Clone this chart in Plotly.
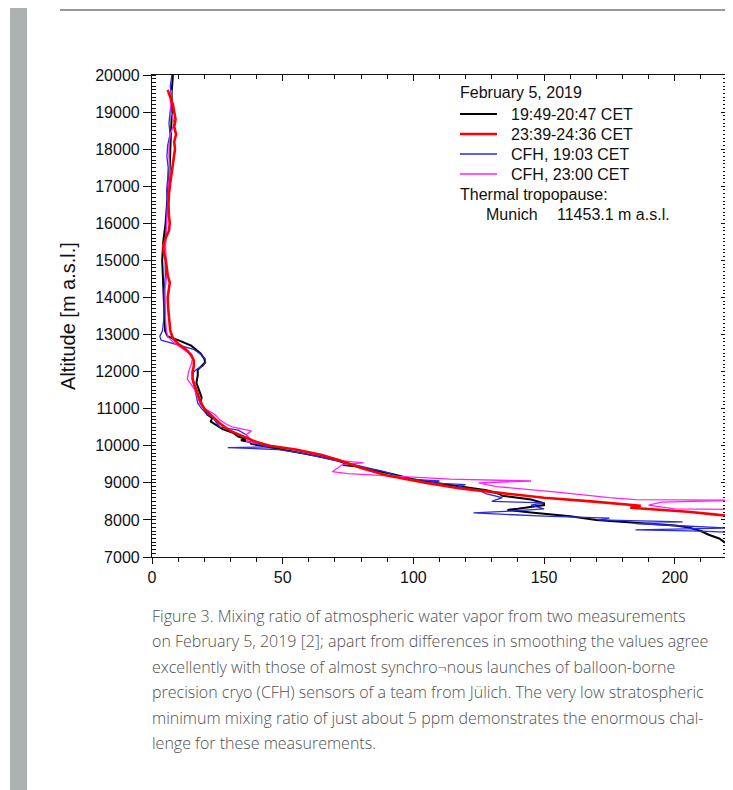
import plotly.graph_objects as go

# ---------------- data (altitude in m, mixing ratio in ppmv) ----------------
black_alt = [20000, 19800, 19500, 19000, 18500, 18000, 17500, 17000, 16500, 16000,
             15500, 15200, 15000, 14500, 14000, 13500, 13100, 12950, 12850, 12700,
             12500, 12350, 12250, 12150, 12050, 11900, 11700, 11500, 11300, 11150,
             11000, 10850, 10750, 10650, 10550, 10450, 10350, 10250, 10180, 10150,
             10100, 10050, 10000, 9900, 9800, 9700, 9600, 9530, 9480, 9450,
             9350, 9250, 9100, 9000, 8900, 8800, 8700, 8650, 8600, 8550,
             8450, 8400, 8300, 8270, 8200, 8100, 8000, 7950, 7900, 7850,
             7800, 7700, 7600, 7500, 7400, 7300]
black_val = [8.0, 7.8, 7.5, 7.6, 7.2, 7.0, 6.8, 6.3, 5.8, 5.2,
             4.3, 3.9, 3.9, 4.2, 4.5, 4.8, 5.0, 6.0, 10, 15,
             18.5, 20, 20.3, 19, 17.5, 17.5, 17.0, 18, 19, 18.5,
             20, 21, 23, 22.5, 25, 27, 31, 33, 36, 34,
             37.5, 38, 42, 50, 58, 65, 71, 74, 73, 78,
             84, 91, 100, 108, 118, 128, 133, 134, 140, 145,
             150, 150, 140, 136, 145, 160, 170, 180, 190, 200,
             205, 210, 213, 217, 219, 222]

red_alt = [19600, 19400, 19200, 19000, 18800, 18600, 18400, 18200, 18000, 17700,
           17400, 17100, 16800, 16500, 16200, 16000, 15800, 15600, 15400, 15200,
           15000, 14800, 14600, 14400, 14200, 14000, 13700, 13400, 13100, 12900,
           12750, 12600, 12450, 12300, 12150, 12000, 11800, 11600, 11400, 11200,
           11000, 10800, 10600, 10400, 10250, 10100, 10000, 9900, 9750, 9600,
           9400, 9200, 9000, 8850, 8730, 8600, 8500, 8420, 8380, 8330,
           8300, 8220, 8150, 8100]
red_val = [6.0, 7.0, 8.0, 8.5, 9.0, 8.5, 9.2, 8.5, 8.8, 8.2,
           7.5, 7.0, 6.5, 6.3, 6.5, 6.8, 6.5, 5.2, 4.3, 4.5,
           5.3, 5.6, 6.0, 6.8, 6.5, 6.0, 6.2, 6.6, 7.0, 8,
           10, 13, 15, 16, 16, 15.5, 15.5, 16.5, 17.5, 18.5,
           20, 23, 26, 30, 35, 40, 45, 55, 65, 72,
           80, 90, 105, 118, 133, 150, 168, 180, 187, 183,
           190, 205, 215, 222]

blue_alt = [20000, 19700, 19400, 19000, 18700, 18400, 18100, 17800, 17500, 17200,
            16900, 16500, 16200, 15800, 15400, 15000, 14600, 14200, 13800, 13400,
            13100, 12950, 12850, 12800, 12700, 12600, 12450, 12350, 12250, 12150,
            12080, 12000, 11850, 11700, 11500, 11300, 11150, 11000, 10850, 10780,
            10650, 10500, 10420, 10300, 10200, 10100, 10050, 9970, 9950, 9930,
            9900, 9800, 9700, 9600, 9500, 9400, 9300, 9200, 9100, 9050,
            9000, 8950, 8900, 8800, 8700, 8600, 8500, 8460, 8400, 8300,
            8250, 8190, 8150, 8100, 8050, 8000, 7950, 7900, 7850, 7780,
            7730, 7700, 7650]
blue_val = [7.6, 7.0, 7.5, 7.0, 6.5, 6.9, 6.0, 5.7, 6.2, 6.0,
            5.6, 5.8, 5.5, 5.3, 5.0, 5.0, 5.1, 4.7, 4.6, 4.5,
            4.0, 3.0, 3.5, 6, 12, 16, 19, 20.3, 20.5, 19.5,
            17.5, 16, 15.5, 15.7, 16.5, 17, 17.5, 19, 21, 23,
            24.5, 26, 33, 36, 37, 38.6, 40, 45, 29, 36,
            48, 57, 64, 70, 77, 83, 89, 93, 98, 110,
            106, 120, 117, 125, 128, 134, 130, 150, 145, 150,
            140, 123, 135, 150, 175, 171, 203, 185, 200, 221,
            185, 210, 225]

mag_alt = [19600, 19300, 19000, 18700, 18400, 18100, 17800, 17400, 17000, 16600,
           16200, 15800, 15400, 15000, 14600, 14200, 13800, 13400, 13100, 12950,
           12800, 12650, 12500, 12350, 12200, 12000, 11800, 11700, 11550, 11400,
           11200, 11000, 10850, 10700, 10600, 10500, 10400, 10300, 10200, 10120,
           10050, 9950, 9850, 9750, 9650, 9600, 9540, 9500, 9300, 9250,
           9100, 9050, 9000, 8950, 8900, 8750, 8600, 8550, 8530, 8480,
           8400, 8300, 8280]
mag_val = [7.5, 7.0, 7.3, 8.5, 7.0, 6.5, 6.5, 6.8, 6.3, 6.0,
           5.8, 5.5, 5.2, 5.4, 5.6, 5.0, 5.0, 5.2, 5.5, 6,
           8, 11, 14, 15.5, 15, 14, 13.5, 14.5, 16, 17,
           18, 20, 24, 26, 28, 31, 38, 36, 37.5, 36,
           42, 50, 57, 64, 70, 72, 81, 73, 69, 75,
           114, 145, 125, 128, 132, 155, 175, 185, 225, 195,
           190, 200, 225]

legend_title = "February 5, 2019"
series_names = ["19:49-20:47 CET", "23:39-24:36 CET", "CFH, 19:03 CET", "CFH, 23:00 CET"]
series_colors = ["#000000", "#ff0000", "#2a2ae0", "#ff22ff"]
series_widths = [2, 2.6, 1.3, 1.3]
x_range = [0, 220]
y_range = [7000, 20000]
x_ticks = [0, 50, 100, 150, 200]
y_ticks = list(range(7000, 20001, 1000))
y_ticktext = [str(v) for v in y_ticks]
tropo_label = "Thermal tropopause:"
tropo_site = "Munich"
tropo_value = "11453.1 m a.s.l."

caption_lines = [
    "Figure 3. Mixing ratio of atmospheric water vapor from two measurements",
    "on February 5, 2019 [2]; apart from differences in smoothing the values agree",
    "excellently with those of almost synchro¬nous launches of balloon-borne",
    "precision cryo (CFH) sensors of a team from Jülich. The very low stratospheric",
    "minimum mixing ratio of just about 5 ppm demonstrates the enormous chal-",
    "lenge for these measurements.",
]

# ---------------- layout geometry (reference pixels) ----------------
OFF = 8                      # page body margin of the html page
PAGE_W, PAGE_H = 733, 790
W, H = PAGE_W - OFF, PAGE_H - OFF
L, R, T, B = 152, 727, 75, 557
PW, PH = R - L, B - T


def px(x):
    return (x - L) / PW


def py(y):
    return (B - y) / PH


AX_FONT = "Liberation Sans, Arial, sans-serif"
INK = "#111111"

fig = go.Figure()

trace_data = [(black_val, black_alt, 0), (blue_val, blue_alt, 2),
              (mag_val, mag_alt, 3), (red_val, red_alt, 1)]
for xv, yv, k in trace_data:
    fig.add_trace(go.Scatter(x=xv, y=yv, mode="lines", name=series_names[k],
                             line=dict(color=series_colors[k], width=series_widths[k]),
                             showlegend=False))

# empty helper trace so the top / right frame axes are drawn
fig.add_trace(go.Scatter(x=[None], y=[None], xaxis="x2", yaxis="y2",
                         showlegend=False, hoverinfo="skip"))

axis_common = dict(showgrid=False, zeroline=False, showline=True, linecolor=INK,
                   linewidth=1.2, tickcolor=INK, tickwidth=1.2)

fig.update_layout(
    width=W, height=H,
    margin=dict(l=L - OFF, r=PAGE_W - R, t=T - OFF, b=PAGE_H - B, autoexpand=False),
    paper_bgcolor="white", plot_bgcolor="white",
    font=dict(family=AX_FONT, size=16, color=INK),
    showlegend=False,
    xaxis=dict(
        range=x_range, tickvals=x_ticks, ticks="outside", ticklen=6,
        minor=dict(dtick=10, ticks="outside", ticklen=4, tickcolor=INK, tickwidth=1),
        tickfont=dict(family=AX_FONT, size=16, color=INK), **axis_common,
    ),
    xaxis2=dict(
        range=x_range, tickvals=x_ticks, ticks="inside", ticklen=6, side="top",
        overlaying="x", anchor="y2", showticklabels=False,
        minor=dict(dtick=10, ticks="inside", ticklen=4, tickcolor=INK, tickwidth=1),
        **axis_common,
    ),
    yaxis=dict(
        range=y_range, tickvals=y_ticks, ticktext=y_ticktext,
        ticks="outside", ticklen=8,
        minor=dict(dtick=100, ticks="inside", ticklen=4, tickcolor=INK, tickwidth=1),
        tickfont=dict(family=AX_FONT, size=16, color=INK),
        title=dict(text="Altitude [m a.s.l.]", font=dict(family=AX_FONT, size=20, color=INK),
                   standoff=14),
        **axis_common,
    ),
    yaxis2=dict(
        range=y_range, tickvals=y_ticks, ticks="inside", ticklen=6, side="right",
        overlaying="y", anchor="x2", showticklabels=False,
        minor=dict(dtick=100, ticks="inside", ticklen=4, tickcolor=INK, tickwidth=1),
        **axis_common,
    ),
)

# page decorations: grey side bar and top rule
fig.add_shape(type="rect", xref="paper", yref="paper",
              x0=px(10), x1=px(27), y0=py(5), y1=py(PAGE_H + 5),
              fillcolor="#aeb1b1", line=dict(width=0), layer="below")
fig.add_shape(type="line", xref="paper", yref="paper",
              x0=px(60), x1=px(733), y0=py(10), y1=py(10),
              line=dict(color="#333333", width=1.2))


def text(x, y, s, size=16, family=AX_FONT, color=INK, **kw):
    fig.add_annotation(x=px(x), y=py(y), xref="paper", yref="paper", xanchor="left",
                       yanchor="middle", showarrow=False, text=s,
                       font=dict(family=family, size=size, color=color, **kw))


# in-plot legend (drawn like the original text block)
text(458, 93, legend_title)
for k in range(4):
    yy = 114 + 20 * k
    fig.add_shape(type="line", xref="paper", yref="paper",
                  x0=px(460), x1=px(497), y0=py(yy), y1=py(yy),
                  line=dict(color=series_colors[k], width=series_widths[k]))
    text(509, yy, series_names[k])
text(458, 194, tropo_label)
text(484, 215, tropo_site)
text(555, 215, tropo_value)

# caption
cap_y0, cap_dy = 616, 25.4
for i, line in enumerate(caption_lines):
    text(150, cap_y0 + i * cap_dy, line, size=16, family="Open Sans, sans-serif",
         color="#505050", weight=300)

fig.write_html("out.html")
